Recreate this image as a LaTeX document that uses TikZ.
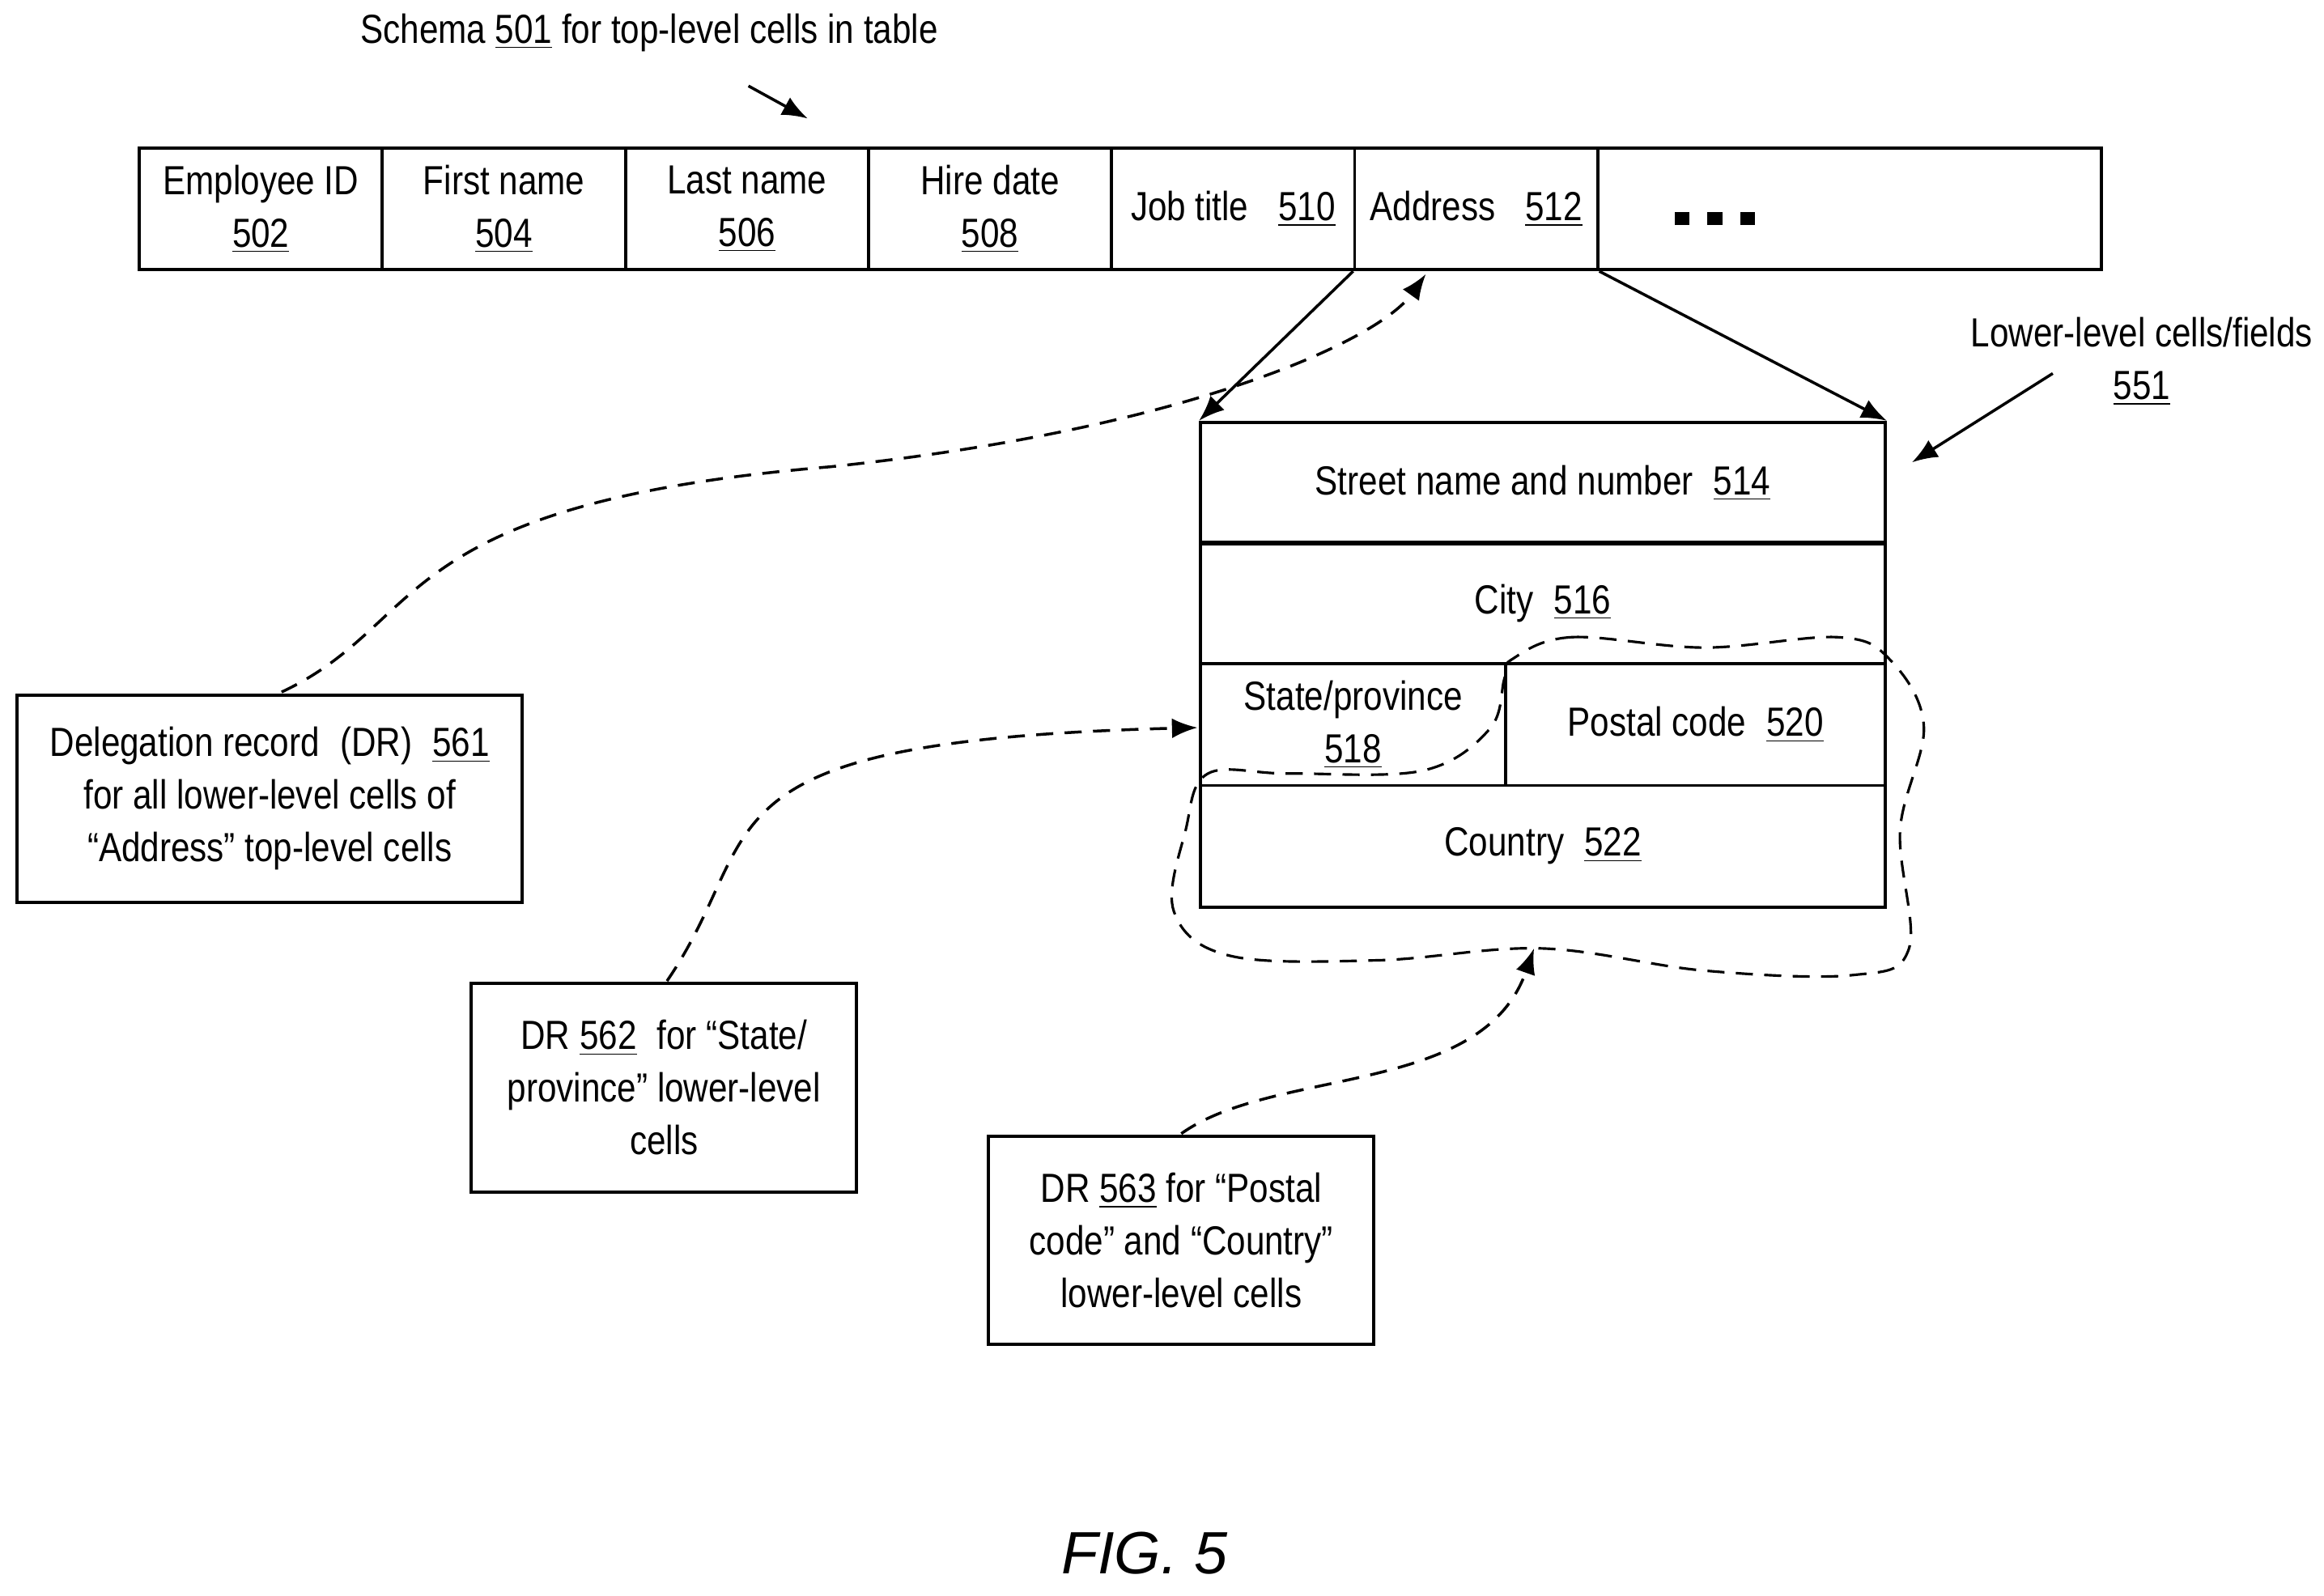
\documentclass[tikz,border=0pt]{standalone}
\usepackage{fontspec}
\setmainfont{Liberation Sans}[FakeStretch=0.84]
\newfontfamily\figfont{Liberation Sans}
\usetikzlibrary{calc, arrows.meta}
\newcommand{\ul}[1]{\underline{#1}}
\begin{document}
\begin{tikzpicture}[x=0.01831cm, y=-0.01831cm, font=\fontsize{14.3}{18.5}\selectfont,
    cell/.style={draw, line width=1.1pt, inner sep=0pt, align=center},
    arr/.style={-{Latex[length=9pt,width=7pt]}, line width=1pt},
    dashline/.style={line width=0.9pt, dash pattern=on 6pt off 4pt}]
    \useasboundingbox (0,0) rectangle (1568,1077);

    % top-level schema
    \node[cell, minimum width=164*0.01831cm, minimum height=82*0.01831cm] (emp) at (176,141) {Employee ID\\\ul{502}};
    \node[cell, minimum width=164*0.01831cm, minimum height=82*0.01831cm] (first) at (340,141) {First name\\\ul{504}};
    \node[cell, minimum width=164*0.01831cm, minimum height=82*0.01831cm] (last) at (504,141) {Last name\\\ul{506}};
    \node[cell, minimum width=164*0.01831cm, minimum height=82*0.01831cm] (hire) at (668,141) {Hire date\\\ul{508}};
    \node[cell, minimum width=164*0.01831cm, minimum height=82*0.01831cm] (job) at (832,141) {Job title\enspace\ \ul{510}};
    \node[cell, minimum width=164*0.01831cm, minimum height=82*0.01831cm] (addr) at (996,141) {Address\enspace\ \ul{512}};
    \node[cell, minimum width=340*0.01831cm, minimum height=82*0.01831cm] (more) at (1248,141) {};
    \foreach \dx in {0,22,44}
        \fill (1130+\dx,143) rectangle (1140+\dx,152);

    \node (schema) at (438,22) {Schema \ul{501} for top-level cells in table};
    \coordinate (s1) at (505,58);
    \coordinate (s2) at (545,80);
    \draw[arr] (s1) -- (s2);

    % lower-level cells
    \node[cell, minimum width=462*0.01831cm, minimum height=82*0.01831cm] (street) at (1041,326) {Street name and number\enspace\ul{514}};
    \node[cell, minimum width=462*0.01831cm, minimum height=82*0.01831cm] (city) at (1041,407) {City\enspace\ul{516}};
    \node[cell, minimum width=206*0.01831cm, minimum height=82*0.01831cm] (state) at (913,489) {State/province\\\ul{518}};
    \node[cell, minimum width=256*0.01831cm, minimum height=82*0.01831cm] (postal) at (1144,489) {Postal code\enspace\ul{520}};
    \node[cell, minimum width=462*0.01831cm, minimum height=82*0.01831cm] (country) at (1041,571) {Country\enspace\ul{522}};

    \draw[arr] (addr.south west) -- (street.north west);
    \draw[arr] (addr.south east) -- (street.north east);

    \node[align=center] (lower) at (1445,244) {Lower-level cells/fields\\\ul{551}};
    \coordinate (l1) at (1385,252);
    \coordinate (l2) at (1290,312);
    \draw[arr] (l1) -- (l2);

    % delegation records
    \node[cell, minimum width=341*0.01831cm, minimum height=140*0.01831cm] (dr561) at (182,539) {Delegation record\enspace(DR)\enspace\ul{561}\\for all lower-level cells of\\``Address'' top-level cells};
    \node[cell, minimum width=260*0.01831cm, minimum height=141*0.01831cm] (dr562) at (448,734) {DR \ul{562}\enspace for ``State/\\province'' lower-level\\cells};
    \node[cell, minimum width=260*0.01831cm, minimum height=140*0.01831cm] (dr563) at (797,837) {DR \ul{563} for ``Postal\\code'' and ``Country''\\lower-level cells};

    \coordinate (t1) at (962,185);
    \coordinate (t2) at (808,491);
    \coordinate (t3) at (1035,640);
    \draw[dashline, arr] (190,467) .. controls (290,420) and (260,340) .. (560,315) .. controls (800,290) and (930,230) .. (t1);
    \draw[dashline, arr] (450,662) .. controls (520,560) and (460,500) .. (t2);
    \draw[dashline, arr] (797,765) .. controls (860,720) and (1000,740) .. (t3);

    % region of DR 563
    \draw[dashline] plot[smooth cycle, tension=0.6] coordinates {(1020,445) (1060,430) (1150,437) (1240,430) (1275,445) (1298,490) (1282,560) (1288,640) (1250,658) (1150,655) (1040,640) (930,648) (830,645) (792,615) (800,560) (815,522) (870,522) (960,520) (1005,492) (1015,458)};

    \node[font=\fontsize{21}{21}\figfont\itshape] (fig) at (772,1048) {FIG. 5};
\end{tikzpicture}
\end{document}
